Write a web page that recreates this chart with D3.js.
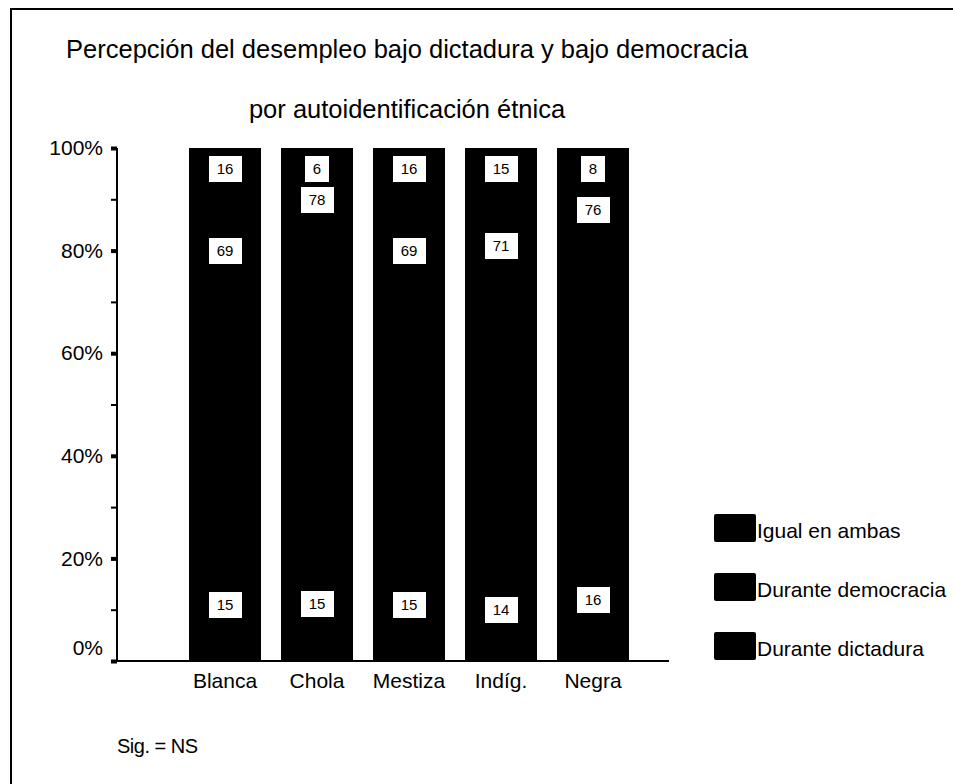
<!DOCTYPE html>
<html>
<head>
<meta charset="utf-8">
<script src="https://cdn.jsdelivr.net/npm/d3@7"></script>
<style>
  html, body { margin: 0; padding: 0; background: #fff; overflow: hidden; }
  svg { display: block; }
  text { font-family: "Liberation Sans", Arial, sans-serif; fill: #000; }
</style>
</head>
<body>
<script>
var width = 953,
    height = 784;

// data
var groups = ["Blanca", "Chola", "Mestiza", "Indíg.", "Negra"];
var seriesNames = ["Durante dictadura", "Durante democracia", "Igual en ambas"];
var dictadura  = [15, 15, 15, 14, 16];
var democracia = [69, 78, 69, 71, 76];
var igual      = [16, 6, 16, 15, 8];
var yTicks = [0, 0.1, 0.2, 0.3, 0.4, 0.5, 0.6, 0.7, 0.8, 0.9, 1];

var rows = groups.map(function(g, i) {
  return {group: g, "Durante dictadura": dictadura[i], "Durante democracia": democracia[i], "Igual en ambas": igual[i]};
});

var svg = d3.select("body").append("svg")
  .attr("width", width)
  .attr("height", height);

// frame: only left and top edges fall inside the picture
svg.append("path")
  .attr("d", "M11," + height + "V9H" + width)
  .attr("fill", "none").attr("stroke", "#000").attr("stroke-width", 2);

// title
svg.append("text")
  .attr("x", 407).attr("y", 58)
  .attr("text-anchor", "middle")
  .style("font-size", "25.5px")
  .text("Percepción del desempleo bajo dictadura y bajo democracia");
svg.append("text")
  .attr("x", 407).attr("y", 118)
  .attr("text-anchor", "middle")
  .style("font-size", "25.5px")
  .text("por autoidentificación étnica");

var x = d3.scaleBand()
  .domain(groups)
  .range([167.6, 650.5])
  .paddingInner(0.22)
  .paddingOuter(0.22)
  .round(true);

var y = d3.scaleLinear()
  .domain([0, 1])
  .range([661, 148]);

var stack = d3.stack()
  .keys(seriesNames)
  .offset(d3.stackOffsetExpand);
var layers = stack(rows);

// bars (edges rounded to whole pixels so stacked pieces join without seams)
var layer = svg.append("g").selectAll("g")
  .data(layers)
  .enter()
.append("g")
  .attr("fill", "#000");

layer.selectAll("rect")
  .data(function(d) { return d; })
  .enter()
.append("rect")
  .attr("shape-rendering", "crispEdges")
  .attr("x", function(d) { return x(d.data.group); })
  .attr("y", function(d) { return Math.round(y(d[1])); })
  .attr("width", x.bandwidth())
  .attr("height", function(d) { return Math.round(y(d[0])) - Math.round(y(d[1])); });

// value labels, placed inside the end of each segment
var labels = [];
layers.forEach(function(l) {
  l.forEach(function(d) {
    labels.push({key: l.key, group: d.data.group, top: d[1], value: d.data[l.key]});
  });
});

var lab = svg.append("g").selectAll("g")
  .data(labels)
  .enter()
.append("g")
  .attr("transform", function(d) {
    return "translate(" + (x(d.group) + x.bandwidth() / 2) + "," + Math.round(y(d.top) + 21) + ")";
  });

lab.append("text")
  .attr("text-anchor", "middle")
  .attr("dy", "0.35em")
  .style("font-size", "15px")
  .text(function(d) { return d.value; });

lab.insert("rect", "text")
  .attr("fill", "#fff")
  .each(function() {
    var t = d3.select(this.parentNode).select("text").node().getBBox();
    d3.select(this)
      .attr("x", Math.round(-t.width / 2 - 8))
      .attr("y", -13)
      .attr("width", Math.round(t.width + 16))
      .attr("height", 26);
  });

// y axis
var yAxis = svg.append("g")
  .attr("transform", "translate(117,0)")
  .call(d3.axisLeft(y)
    .tickValues(yTicks)
    .tickSize(6)
    .tickPadding(8)
    .tickFormat(function(d) {
      var p = Math.round(d * 100);
      return p % 20 === 0 ? p + "%" : "";
    }));
yAxis.select(".domain").remove();
yAxis.selectAll(".tick line")
  .attr("stroke", "#000")
  .attr("stroke-width", function(d) { return Math.round(d * 100) % 20 === 0 ? 4 : 2; });
yAxis.selectAll(".tick text")
  .style("font-size", "21px")
  .style("font-family", "'Liberation Sans', Arial, sans-serif")
  .attr("dy", function(d) { return d === 0 ? "-0.3em" : "0.32em"; });

svg.append("line")
  .attr("x1", 117).attr("x2", 117)
  .attr("y1", y(1)).attr("y2", y(0) + 1)
  .attr("stroke", "#000").attr("stroke-width", 2);

// x axis
svg.append("line")
  .attr("x1", 116).attr("x2", 669)
  .attr("y1", y(0)).attr("y2", y(0))
  .attr("stroke", "#000").attr("stroke-width", 2);

svg.append("g").selectAll("text")
  .data(groups)
  .enter()
.append("text")
  .attr("x", function(d) { return x(d) + x.bandwidth() / 2; })
  .attr("y", 688)
  .attr("text-anchor", "middle")
  .style("font-size", "21px")
  .text(function(d) { return d; });

// legend
var legendNames = seriesNames.slice().reverse();
var legend = svg.append("g").selectAll("g")
  .data(legendNames)
  .enter()
.append("g")
  .attr("transform", function(d, i) { return "translate(714," + (514 + i * 59) + ")"; });

legend.append("rect")
  .attr("width", 42).attr("height", 28)
  .attr("rx", 2)
  .attr("fill", "#000");

legend.append("text")
  .attr("x", 43)
  .attr("y", 24)
  .style("font-size", "21px")
  .text(function(d) { return d; });

// footnote
svg.append("text")
  .attr("x", 117).attr("y", 753)
  .style("font-size", "20px")
  .style("letter-spacing", "-0.5px")
  .text("Sig. = NS");
</script>
</body>
</html>
